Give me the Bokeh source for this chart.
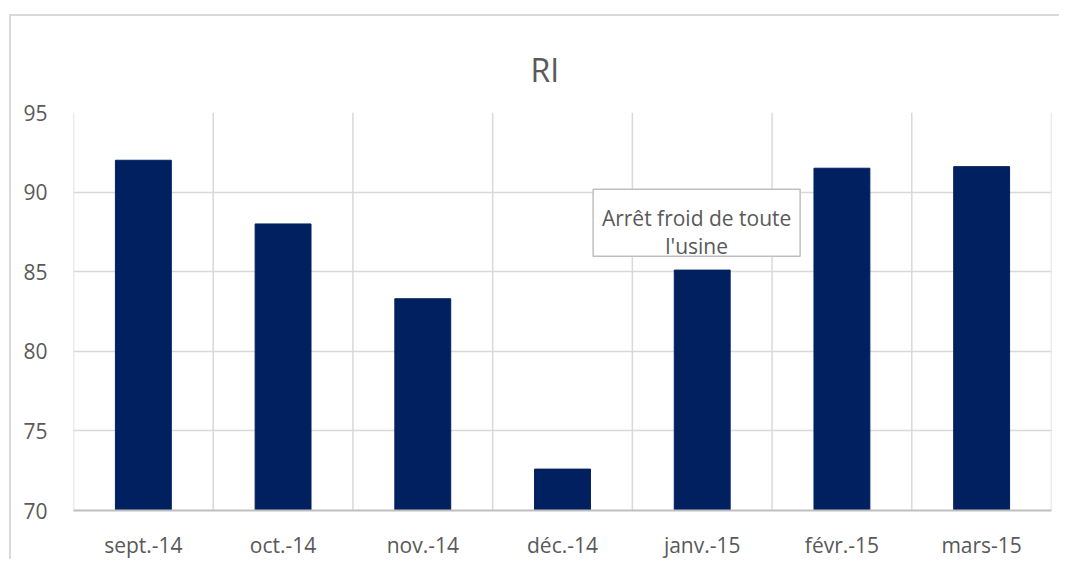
from bokeh.plotting import figure
from bokeh.models import FactorRange, Range1d, FixedTicker, Span, ColumnDataSource
from bokeh.core.properties import value
from bokeh.embed import file_html
from bokeh.resources import INLINE

months = ["sept.-14", "oct.-14", "nov.-14", "déc.-14", "janv.-15", "févr.-15", "mars-15"]
ri_values = [92.0, 88.0, 83.3, 72.6, 85.1, 91.5, 91.6]
y_ticks = [70, 75, 80, 85, 90, 95]
title_text = "RI"
note_lines = ["Arrêt froid de toute", "l'usine"]

FONT = "Open Sans"
GREY_TEXT = "#595959"

p = figure(
    x_range=FactorRange(*months, range_padding=0),
    y_range=Range1d(70, 95),
    width=1050, height=545,
    output_backend="svg", toolbar_location=None,
    min_border_left=62, min_border_right=10, min_border_top=96, min_border_bottom=47,
)
p.margin = (14, 0, 0, 9)
p.styles = {"border-top": "2px solid #d9d9d9", "border-left": "2px solid #d9d9d9"}
p.outline_line_color = None

p.title.text = title_text
p.title.align = "left"
p.title.offset = 457
p.title.standoff = 39
p.title.vertical_align = "top"
p.title.text_font = FONT
p.title.text_font_size = "32px"
p.title.text_font_style = "normal"
p.title.text_color = GREY_TEXT

src = ColumnDataSource(dict(month=months, ri=ri_values))
p.vbar(x="month", top="ri", bottom=70, width=0.4, source=src,
       fill_color="#002060", line_color="#002060")

p.ygrid.grid_line_color = "#d9d9d9"
p.ygrid.grid_line_width = 1.5
p.xgrid.grid_line_color = None
for k in range(len(months) + 1):
    p.add_layout(Span(location=k, dimension="height", line_color="#d9d9d9", line_width=1.5, level="underlay"))

p.yaxis.ticker = FixedTicker(ticks=y_ticks)
p.yaxis.axis_line_color = None
p.yaxis.major_tick_line_color = None
p.yaxis.minor_tick_line_color = None
p.yaxis.major_label_text_font = FONT
p.yaxis.major_label_text_font_size = "21px"
p.yaxis.major_label_text_color = GREY_TEXT
p.yaxis.major_label_standoff = 20

p.xaxis.axis_line_color = "#bfbfbf"
p.xaxis.axis_line_width = 2
p.xaxis.major_tick_line_color = None
p.xaxis.major_label_text_font = FONT
p.xaxis.major_label_text_font_size = "21px"
p.xaxis.major_label_text_color = GREY_TEXT
p.xaxis.major_label_standoff = 14

nx = 4.46
p.rect(x=[nx], y=[88.07], width=207, height=67, width_units="screen", height_units="screen",
       fill_color="white", line_color="#bfbfbf", line_width=1.5)
p.text(x=[nx, nx], y=[88.39, 86.62], text=note_lines, text_align="center",
       text_baseline="alphabetic", text_font=value(FONT), text_font_size="21px",
       text_color=GREY_TEXT)

open("out.html", "w").write(file_html(p, INLINE))
